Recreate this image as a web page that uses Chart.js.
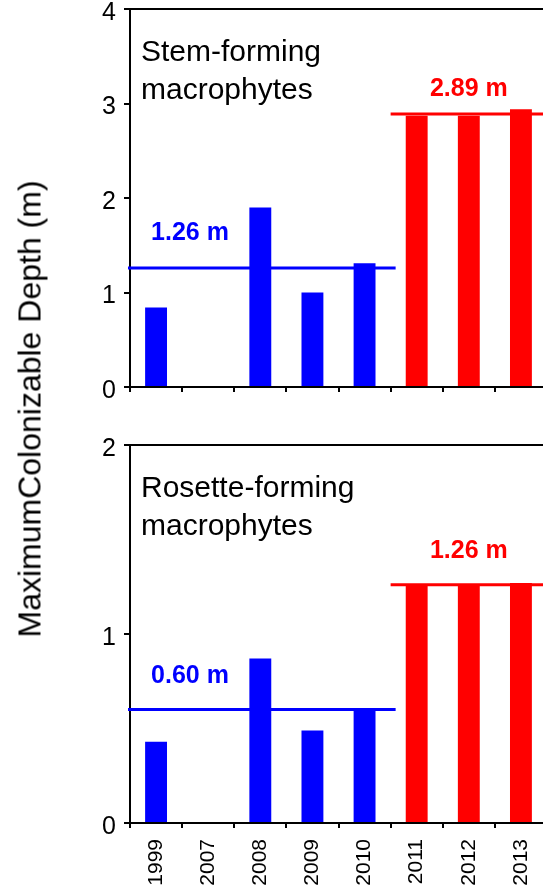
<!DOCTYPE html>
<html>
<head>
<meta charset="utf-8">
<script src="https://cdn.jsdelivr.net/npm/chart.js@4.4.1/dist/chart.umd.min.js"></script>
<style>
  body { margin: 0; width: 543px; height: 890px; overflow: hidden; background: #fff; position: relative; }
  canvas { position: absolute; left: 0; }
  #stemChart { top: 0; }
  #rosetteChart { top: 430px; }
  #yTitle {
    position: absolute; left: 30px; top: 409px;
    transform: translate(-50%, -50%) rotate(-90deg);
    font: 32px Arial, "Liberation Sans", sans-serif;
    white-space: nowrap; color: #000;
  }
</style>
</head>
<body>
<canvas id="stemChart" width="560" height="400"></canvas>
<canvas id="rosetteChart" width="560" height="460"></canvas>
<div id="yTitle">MaximumColonizable Depth (m)</div>

<script>
const years = ['1999', '2007', '2008', '2009', '2010', '2011', '2012', '2013'];
const stemDepth = [0.84, null, 1.90, 1.00, 1.31, 2.87, 2.87, 2.94];
const rosetteDepth = [0.43, null, 0.87, 0.49, 0.60, 1.26, 1.26, 1.27];

// two periods: 1999-2010 and 2011-2013
const groupStart = [0, 5];
const groupEnd = [4, 7];
const stemMeans = [1.26, 2.89];
const rosetteMeans = [0.60, 1.26];

const blue = '#0000ff';
const red = '#ff0000';
const groupColors = [blue, red];
const fontFamily = 'Arial, "Liberation Sans", sans-serif';

Chart.defaults.font.family = fontFamily;
Chart.defaults.color = '#000';

// mean lines + labels, panel title and the top frame line
const panelText = {
    id: 'panelText',
    afterDatasetsDraw(chart, args, opts) {
        const { ctx, chartArea, scales: { x, y } } = chart;
        const half = (x.getPixelForValue(1) - x.getPixelForValue(0)) / 2;
        ctx.save();

        opts.means.forEach((m, i) => {
            const left = i === 0 ? chartArea.left - 2 : x.getPixelForValue(groupStart[i]) - half;
            const right = i === 0 ? x.getPixelForValue(groupEnd[i]) + half + 5 : chartArea.right;
            const yy = y.getPixelForValue(m);
            ctx.strokeStyle = groupColors[i];
            ctx.lineWidth = 3;
            ctx.beginPath();
            ctx.moveTo(left, yy);
            ctx.lineTo(right, yy);
            ctx.stroke();

            ctx.fillStyle = groupColors[i];
            ctx.font = 'bold 25px ' + fontFamily;
            ctx.textAlign = 'center';
            ctx.textBaseline = 'middle';
            ctx.fillText(m.toFixed(2) + ' m', x.getPixelForValue(opts.labelAt[i]), yy - opts.labelGap[i]);
        });

        ctx.fillStyle = '#000';
        ctx.font = '30px ' + fontFamily;
        ctx.textAlign = 'left';
        ctx.textBaseline = 'alphabetic';
        opts.title.forEach((line, k) => {
            ctx.fillText(line, chartArea.left + 11, chartArea.top + 52 + k * 38);
        });

        ctx.strokeStyle = '#000';
        ctx.lineWidth = 2;
        ctx.beginPath();
        ctx.moveTo(chartArea.left, chartArea.top);
        ctx.lineTo(chartArea.right, chartArea.top);
        ctx.stroke();
        ctx.restore();
    }
};

const makeChart = (id, values, yMax, means, title, labelGap, padTop, xHeight, showYears) => {
    return new Chart(document.getElementById(id), {
        type: 'bar',
        data: {
            labels: years,
            datasets: [{
                data: values,
                backgroundColor: values.map((v, i) => i < groupStart[1] ? blue : red),
                barPercentage: 0.42,
                categoryPercentage: 1
            }]
        },
        options: {
            responsive: false,
            animation: false,
            layout: { padding: { top: padTop, right: 13, left: 0, bottom: 0 } },
            plugins: {
                legend: { display: false },
                tooltip: { enabled: false },
                panelText: { means: means, title: title, labelGap: labelGap, labelAt: [0.65, 6] }
            },
            scales: {
                x: {
                    grid: { drawOnChartArea: false, tickLength: 5, color: '#000', lineWidth: 2, offset: true },
                    border: { color: '#000', width: 2 },
                    ticks: {
                        display: showYears, autoSkip: false,
                        minRotation: 90, maxRotation: 90,
                        font: { size: 21 }, color: '#000', padding: 11
                    },
                    afterFit: (s) => {
                        s.height = xHeight;
                        s.paddingLeft = 0;
                        s.paddingRight = 0;
                    }
                },
                y: {
                    min: 0,
                    max: yMax,
                    ticks: {
                        stepSize: 1,
                        // blank first line nudges the number a few px below its tick
                        callback: (v) => ['', String(v)],
                        font: { size: 25, lineHeight: 0.32 },
                        color: '#000',
                        padding: 8
                    },
                    grid: { drawOnChartArea: false, tickLength: 6, color: '#000', lineWidth: 2 },
                    border: { color: '#000', width: 2 },
                    afterFit: (s) => {
                        s.width = 130;
                        s.paddingTop = 0;
                        s.paddingBottom = 0;
                    }
                }
            }
        },
        plugins: [panelText]
    });
};

makeChart('stemChart', stemDepth, 4, stemMeans, ['Stem-forming', 'macrophytes'], [35, 25], 9, 13, false);
makeChart('rosetteChart', rosetteDepth, 2, rosetteMeans, ['Rosette-forming', 'macrophytes'], [33, 34], 15, 67, true);
</script>
</body>
</html>
